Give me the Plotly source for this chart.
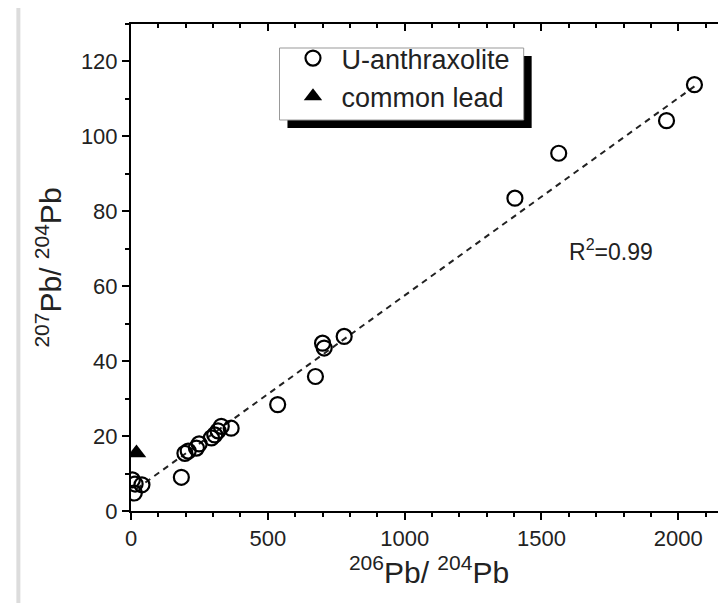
import plotly.graph_objects as go

# ---- data ----
u_x = [5, 12, 15, 40, 184, 197, 209, 239, 249, 294, 306, 318, 330, 366, 536, 674, 700, 706, 779, 1403, 1563, 1957, 2059]
u_y = [8.3, 4.8, 7.2, 7.0, 9.0, 15.4, 16.0, 16.8, 17.9, 19.5, 20.3, 21.4, 22.6, 22.1, 28.4, 35.9, 44.8, 43.5, 46.6, 83.5, 95.5, 104.2, 113.8]
lead_x = [20]
lead_y = [15.5]
fit_x = [20, 2060]
fit_y = [5.9, 113.4]
x_range = [0, 2178]
y_range = [0, 130]
r2_text = "R<sup>2</sup>=0.99"

FONT = "Liberation Sans, Arial, sans-serif"
W, H = 726, 603
L, R, T, B = 123, 5, 16, 100
pw, ph = W - L - R, H - T - B

def px(x):
    return (x - L) / pw

def py(y):
    return (H - B - y) / ph

fig = go.Figure()
fig.add_trace(go.Scatter(x=fit_x, y=fit_y, mode="lines",
                         line=dict(color="#222", width=2, dash="6px,5px"),
                         showlegend=False, hoverinfo="skip"))
fig.add_trace(go.Scatter(x=u_x, y=u_y, mode="markers", name="U-anthraxolite",
                         marker=dict(symbol="circle-open", size=15, color="black",
                                     line=dict(width=2.2, color="black"))))
fig.add_trace(go.Scatter(x=lead_x, y=lead_y, mode="markers", name="common lead",
                         marker=dict(symbol="triangle-up", size=17, color="black")))
# dummy trace for mirrored axes
fig.add_trace(go.Scatter(x=[x_range[0]], y=[y_range[0]], xaxis="x2", yaxis="y2",
                         mode="markers", marker=dict(opacity=0), showlegend=False,
                         hoverinfo="skip"))

axis_common = dict(showgrid=False, zeroline=False, linecolor="black", linewidth=2,
                   tickcolor="black", tickwidth=2,
                   tickfont=dict(family=FONT, size=22, color="#222"))

fig.update_layout(
    width=W, height=H,
    margin=dict(l=L, r=R, t=T, b=B),
    paper_bgcolor="white", plot_bgcolor="white",
    font=dict(family=FONT, color="#222"),
    xaxis=dict(range=x_range, tickmode="linear", tick0=0, dtick=500,
               ticks="outside", ticklen=7, showline=True, mirror=True,
               minor=dict(dtick=100, ticks="outside", ticklen=4, tickwidth=1.5, tickcolor="black"),
               title=dict(text="<sup>206</sup>Pb/ <sup>204</sup>Pb",
                          font=dict(family=FONT, size=30, color="#222"), standoff=8),
               **axis_common),
    yaxis=dict(range=y_range, tickmode="linear", tick0=0, dtick=20,
               ticks="outside", ticklen=7, showline=True, mirror=True,
               minor=dict(dtick=10, ticks="outside", ticklen=4, tickwidth=1.5, tickcolor="black"),
               title=dict(text="<sup>207</sup>Pb/ <sup>204</sup>Pb",
                          font=dict(family=FONT, size=30, color="#222"), standoff=10),
               **axis_common),
    xaxis2=dict(range=x_range, overlaying="x", side="top", anchor="y",
                tickmode="linear", tick0=0, dtick=500, ticks="inside", ticklen=7,
                showticklabels=False, showline=False, showgrid=False, zeroline=False,
                tickcolor="black", tickwidth=2,
                minor=dict(dtick=100, ticks="inside", ticklen=4, tickwidth=1.5, tickcolor="black")),
    yaxis2=dict(range=y_range, overlaying="y", side="right", anchor="x",
                tickmode="linear", tick0=0, dtick=20, ticks="inside", ticklen=8,
                showticklabels=False, showline=False, showgrid=False, zeroline=False,
                tickcolor="black", tickwidth=2,
                minor=dict(dtick=10, ticks="inside", ticklen=4, tickwidth=1.5, tickcolor="black")),
    legend=dict(x=px(277), y=py(26), xanchor="left", yanchor="top",
                bgcolor="rgba(0,0,0,0)", borderwidth=0,
                font=dict(family=FONT, size=27, color="#222"),
                itemwidth=47, tracegroupgap=0),
    showlegend=True,
)

# legend box with shadow
fig.add_shape(type="rect", xref="paper", yref="paper", layer="above",
              x0=px(280), x1=px(525), y0=py(120), y1=py(48),
              fillcolor="black", line=dict(width=0))
fig.add_shape(type="rect", xref="paper", yref="paper", layer="above",
              x0=px(272), x1=px(517), y0=py(112), y1=py(40),
              fillcolor="white", line=dict(width=1, color="#999"))

# screenshot border decorations
fig.add_shape(type="rect", xref="paper", yref="paper", layer="below",
              x0=px(8), x1=px(12), y0=py(603), y1=py(0),
              fillcolor="#dcdcdc", line=dict(width=0))
fig.add_shape(type="rect", xref="paper", yref="paper", layer="below",
              x0=px(12), x1=px(726), y0=py(603), y1=py(596),
              fillcolor="#f3f3f3", line=dict(width=0))

fig.add_annotation(x=1755, y=69.7, xref="x", yref="y", text=r2_text, showarrow=False,
                   font=dict(family=FONT, size=23, color="#222"))

fig.write_html("out.html")
